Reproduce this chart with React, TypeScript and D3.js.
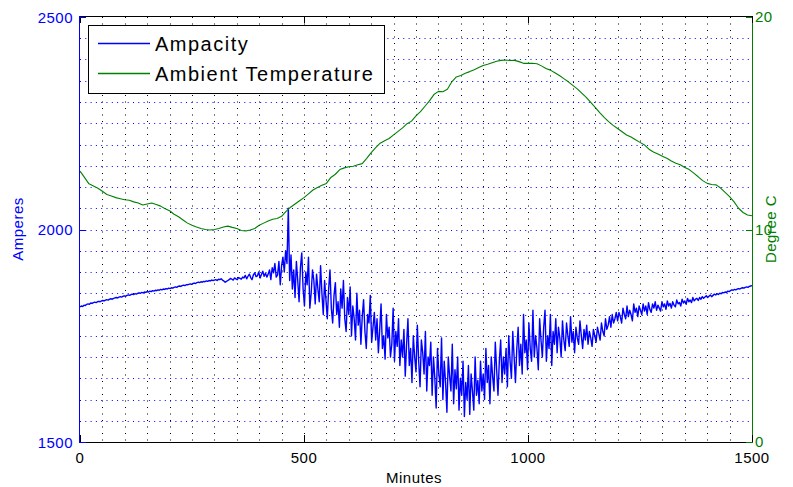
import React from "react";
import * as d3 from "d3";

// ---------- data ----------
const ampStep = 3; // minutes between ampacity samples
const ampacity: number[] = [
  1818,1820,1819,1822,1821,1824,1825,1824,1827,1826,1828,1829,1828,1830,1831,1830,1832,1833,1832,1834,
  1835,1834,1836,1837,1836,1838,1839,1840,1839,1841,1842,1841,1843,1844,1843,1845,1846,1845,1847,1848,
  1847,1849,1848,1850,1851,1850,1852,1851,1853,1852,1854,1853,1855,1854,1856,1855,1857,1856,1858,1857,
  1859,1858,1860,1859,1861,1860,1862,1861,1863,1862,1864,1865,1864,1866,1867,1866,1868,1869,1868,1870,
  1870,1871,1872,1871,1873,1874,1873,1875,1876,1875,1877,1876,1878,1877,1879,1878,1880,1879,1881,1880,
  1881,1882,1880,1883,1882,1884,1881,1879,1876,1878,1880,1882,1885,1883,1881,1886,1884,1882,1887,1885,
  1883,1888,1886,1892,1884,1890,1895,1887,1882,1893,1898,1889,1891,1900,1886,1894,1902,1890,1897,1888,
  1895,1905,1882,1910,1898,1920,1888,1893,1925,1870,1915,1935,1900,1950,1920,2050,1880,1940,1860,1905,
  1840,1925,1880,1830,1910,1945,1860,1820,1900,1870,1935,1815,1850,1905,1880,1825,1895,1860,1830,1915,
  1850,1800,1880,1835,1790,1860,1905,1815,1780,1845,1875,1800,1830,1770,1860,1815,1880,1790,1760,1840,
  1800,1865,1750,1820,1790,1740,1850,1775,1810,1730,1795,1835,1760,1720,1800,1780,1845,1735,1770,1805,
  1740,1790,1710,1765,1825,1720,1750,1695,1800,1745,1770,1700,1730,1815,1690,1760,1725,1790,1680,1740,
  1700,1765,1655,1730,1790,1680,1720,1640,1750,1700,1665,1775,1690,1630,1740,1710,1660,1760,1620,1700,
  1680,1735,1610,1700,1650,1580,1720,1660,1630,1745,1600,1690,1640,1570,1700,1655,1620,1730,1590,1670,
  1625,1700,1575,1650,1610,1690,1560,1640,1600,1680,1565,1660,1620,1575,1700,1610,1645,1590,1690,1620,
  1660,1600,1720,1640,1680,1590,1700,1655,1620,1735,1670,1610,1690,1740,1640,1700,1660,1720,1630,1750,
  1690,1650,1760,1700,1640,1720,1770,1680,1730,1660,1800,1710,1740,1670,1780,1720,1690,1810,1700,1750,
  1720,1670,1790,1740,1700,1770,1810,1690,1750,1720,1800,1680,1760,1730,1790,1710,1770,1745,1700,1785,
  1740,1715,1780,1750,1725,1795,1735,1760,1710,1770,1745,1730,1785,1750,1720,1765,1740,1775,1730,1760,
  1745,1725,1765,1750,1735,1770,1755,1740,1780,1760,1750,1790,1765,1775,1795,1770,1800,1780,1790,1805,
  1785,1805,1795,1780,1815,1800,1790,1820,1795,1810,1800,1785,1825,1805,1815,1795,1820,1810,1800,1825,
  1808,1820,1800,1828,1812,1805,1825,1815,1830,1810,1822,1815,1808,1830,1818,1825,1812,1832,1820,1826,
  1815,1830,1822,1818,1834,1825,1828,1820,1836,1827,1832,1824,1838,1830,1834,1828,1840,1832,1836,1838,
  1833,1840,1836,1842,1838,1841,1844,1840,1843,1846,1842,1845,1848,1846,1849,1847,1850,1849,1852,1851,
  1853,1852,1855,1854,1856,1858,1857,1859,1858,1860,1861,1860,1862,1863,1862,1864,1865,1864,1866,1867,
  1868,
];

const tempStep = 10; // minutes between temperature samples
const temperature: number[] = [
  12.75,12.45,12.15,12.05,11.94,11.8,11.65,11.58,11.5,11.45,
  11.4,11.38,11.3,11.25,11.15,11.2,11.25,11.18,11.1,10.98,
  10.88,10.72,10.6,10.45,10.3,10.2,10.12,10.05,10.0,9.98,
  10.0,10.05,10.12,10.16,10.1,10.05,9.95,9.93,9.98,10.05,
  10.2,10.3,10.4,10.48,10.52,10.62,10.85,11.05,11.2,11.35,
  11.5,11.68,11.86,11.98,12.08,12.17,12.45,12.6,12.82,12.9,
  12.95,12.98,13.05,13.1,13.35,13.62,13.85,14.06,14.18,14.28,
  14.45,14.62,14.78,14.98,15.1,15.35,15.55,15.8,16.05,16.35,
  16.5,16.48,16.6,16.95,17.18,17.25,17.35,17.43,17.52,17.62,
  17.72,17.78,17.85,17.92,17.96,17.98,17.95,17.96,17.9,17.82,
  17.82,17.82,17.8,17.7,17.58,17.5,17.38,17.25,17.1,16.95,
  16.78,16.62,16.42,16.22,15.98,15.75,15.5,15.28,15.08,14.9,
  14.75,14.6,14.45,14.35,14.22,14.1,13.98,13.78,13.65,13.55,
  13.45,13.35,13.22,13.12,13.05,12.92,12.82,12.65,12.48,12.3,
  12.17,12.12,12.1,11.95,11.75,11.55,11.3,11.0,10.8,10.68,10.65,
];

const xTicks = [0, 500, 1000, 1500];
const leftTicks = [1500, 2000, 2500];
const rightTicks = [0, 10, 20];
const seriesNames = ["Ampacity", "Ambient Temperature"];

// ---------- layout ----------
const W = 793, H = 487;
const L = 80, R = 752, T = 17, B = 442;
const BLUE = "#0000ff";
const GREEN = "#008000";
const FONT = "'Liberation Sans', Arial, sans-serif";

export default function App() {
  const x = d3.scaleLinear().domain([0, 1500]).range([L, R]);
  const yA = d3.scaleLinear().domain([1500, 2500]).range([B, T]);
  const yT = d3.scaleLinear().domain([0, 20]).range([B, T]);

  const ampLine = d3.line<number>().x((_, i) => x(i * ampStep)).y((d) => yA(d));
  const tempLine = d3.line<number>().x((_, i) => x(i * tempStep)).y((d) => yT(d));

  const vGrid = d3.range(50, 1500, 50);
  const hGrid = d3.range(1550, 2500, 50);
  const px = (v: number) => Math.round(v) + 0.5;

  return (
    <svg width={W} height={H} style={{ position: "absolute", left: 0, top: 0, background: "#fff" }}
      fontFamily={FONT}>
      <rect x={0} y={0} width={W} height={H} fill="#fff" />
      {/* grids */}
      {vGrid.map((m) => (
        <line key={"v" + m} x1={px(x(m))} x2={px(x(m))} y1={T} y2={B}
          stroke="#000" strokeWidth={1} strokeDasharray="1,5.5" />
      ))}
      {hGrid.map((a) => (
        <line key={"h" + a} x1={L} x2={R} y1={px(yA(a))} y2={px(yA(a))}
          stroke={BLUE} strokeWidth={1} strokeDasharray="1,4.3" />
      ))}
      {/* data */}
      <path d={ampLine(ampacity) || ""} fill="none" stroke={BLUE} strokeWidth={1.4} strokeLinejoin="round" />
      <path d={tempLine(temperature) || ""} fill="none" stroke={GREEN} strokeWidth={1.1} strokeLinejoin="round" />

      {/* box */}
      <line x1={L} x2={R} y1={px(T) - 1} y2={px(T) - 1} stroke="#000" />
      <line x1={L} x2={R} y1={px(B)} y2={px(B)} stroke="#000" />
      <line x1={px(L) - 1} x2={px(L) - 1} y1={T - 1} y2={B + 1} stroke={BLUE} />
      <line x1={px(R)} x2={px(R)} y1={T - 1} y2={B + 1} stroke={GREEN} />

      {/* x ticks */}
      {xTicks.map((m) => (
        <g key={"xt" + m}>
          <line x1={px(x(m))} x2={px(x(m))} y1={B} y2={B - 7} stroke="#000" />
          <line x1={px(x(m))} x2={px(x(m))} y1={T - 1} y2={T + 6} stroke="#000" />
          <text x={x(m)} y={463} textAnchor="middle" fontSize={15} letterSpacing={0.5} fill="#000">{m}</text>
        </g>
      ))}
      {leftTicks.map((a) => (
        <g key={"lt" + a}>
          <line x1={L} x2={L + 6} y1={px(yA(a))} y2={px(yA(a))} stroke={BLUE} />
          <text x={73} y={yA(a) + 5.5} textAnchor="end" fontSize={15} letterSpacing={0.5} fill={BLUE}>{a}</text>
        </g>
      ))}
      {rightTicks.map((t) => (
        <g key={"rt" + t}>
          <line x1={R - 6} x2={R} y1={px(yT(t))} y2={px(yT(t))} stroke={GREEN} />
          <text x={755} y={yT(t) + 5} textAnchor="start" fontSize={15} letterSpacing={0.5} fill={GREEN}>{t}</text>
        </g>
      ))}

      {/* axis labels */}
      <text x={414} y={483} textAnchor="middle" fontSize={15} letterSpacing={0.5} fill="#000">Minutes</text>
      <text transform={`translate(23,229) rotate(-90)`} textAnchor="middle" fontSize={15} letterSpacing={0.5} fill={BLUE}>Amperes</text>
      <text transform={`translate(776,229) rotate(-90)`} textAnchor="middle" fontSize={15} letterSpacing={0.5} fill={GREEN}>Degree C</text>

      {/* legend */}
      <rect x={88.5} y={25.5} width={296} height={68} fill="#fff" stroke="#000" />
      <line x1={98} x2={150} y1={43.5} y2={43.5} stroke={BLUE} strokeWidth={1.3} />
      <line x1={98} x2={150} y1={73.5} y2={73.5} stroke={GREEN} strokeWidth={1.3} />
      <text x={155} y={51} fontSize={20} letterSpacing={1.5} fill="#000">{seriesNames[0]}</text>
      <text x={155} y={81} fontSize={20} letterSpacing={1.5} fill="#000">{seriesNames[1]}</text>
    </svg>
  );
}
